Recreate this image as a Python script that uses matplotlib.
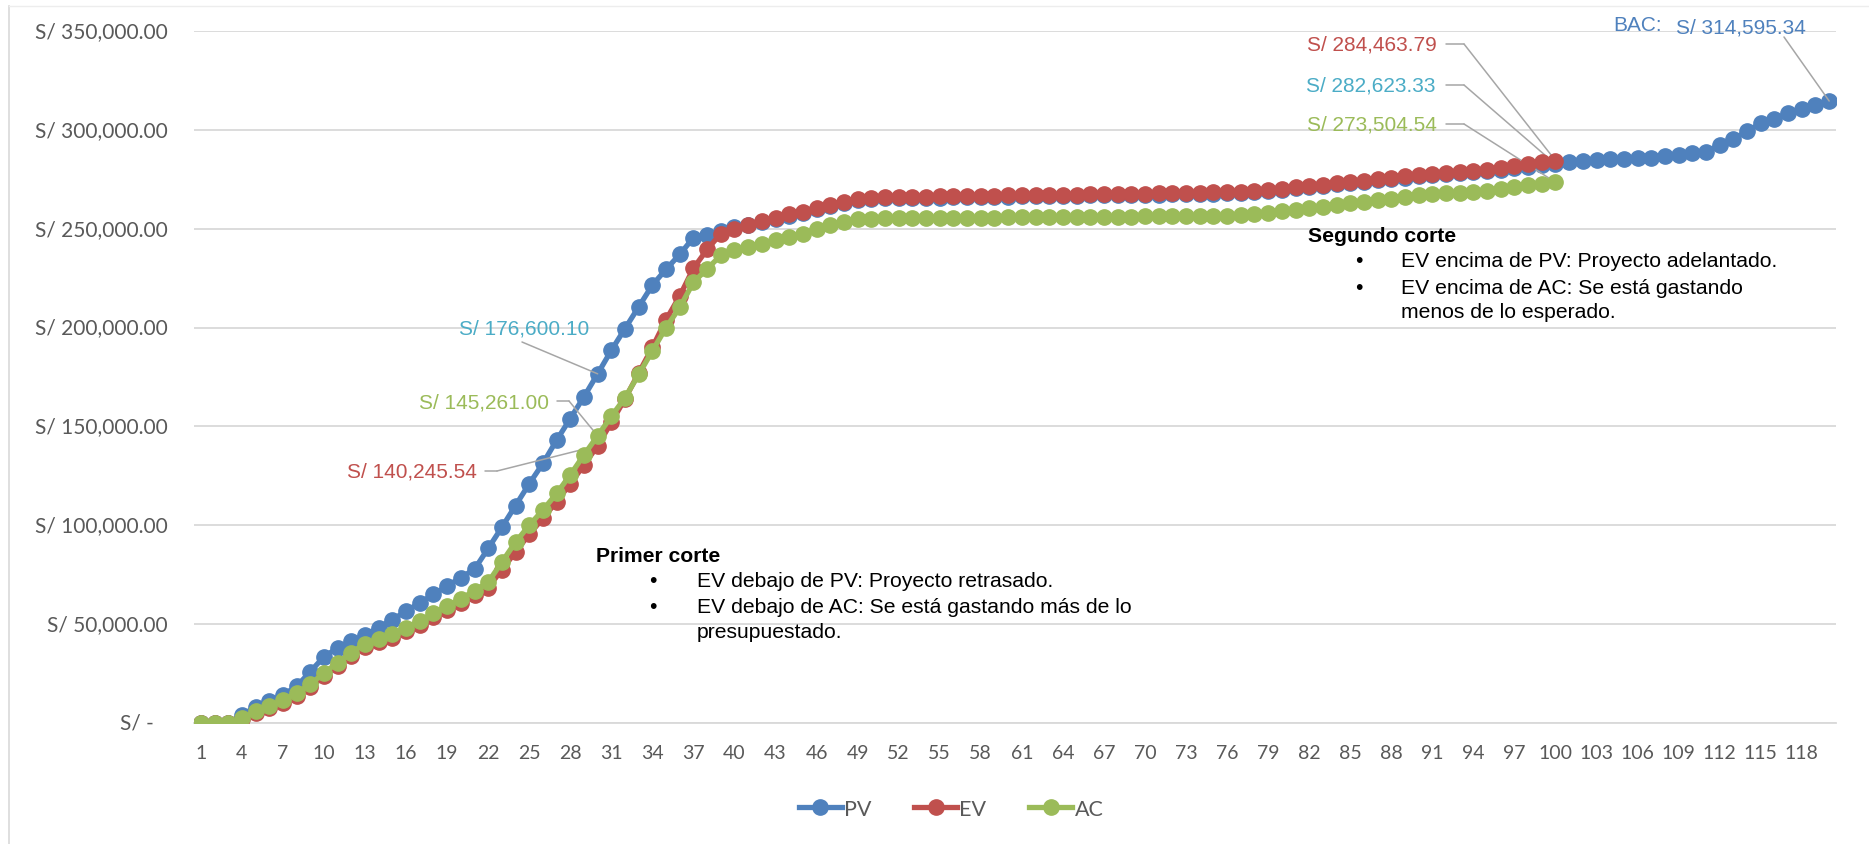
import matplotlib
matplotlib.use("Agg")
import matplotlib.pyplot as plt
from matplotlib.lines import Line2D

periods_pv = list(range(1, 121))
periods_ev = list(range(1, 101))

pv = [0, 0, 0, 4000, 8000, 11000, 14200, 18500, 26000, 33500,
      38000, 41500, 44500, 48300, 52300, 56500, 60800, 65000, 69300, 73500,
      77800, 88300, 99000, 110000, 121000, 131300, 143000, 154000, 165000, 176600.10,
      188500, 199500, 210500, 221500, 229500, 237000, 245500, 247000, 249000, 251000,
      251800, 253300, 254800, 256600, 258000, 259800, 261400, 263000, 264300, 265000,
      265300, 265400, 265500, 265600, 265700, 265800, 265900, 266000, 266100, 266200,
      266300, 266400, 266500, 266600, 266700, 266800, 266900, 267000, 267100, 267200,
      267300, 267400, 267500, 267600, 267800, 268000, 268200, 268600, 269100, 269700,
      270400, 270900, 271700, 272400, 272900, 273600, 274400, 275100, 275900, 276600,
      277200, 277600, 278000, 278500, 279200, 279900, 280700, 281300, 282000, 282623.33,
      283600, 284200, 284800, 285100, 285300, 285600, 286000, 286600, 287400, 288200,
      289000, 292300, 295500, 299200, 303400, 305600, 308400, 310800, 312600, 314595.34]

ev = [0, 0, 0, 2000, 5000, 7800, 10300, 13800, 18000, 23800,
      29000, 34000, 38500, 40800, 43200, 46500, 49800, 53400, 57200, 60600,
      64500, 68500, 77500, 86500, 95500, 103500, 112000, 121000, 130500, 140245.54,
      152000, 164000, 177000, 190000, 204000, 216000, 230000, 239500, 247500, 250000,
      252000, 253800, 255200, 257200, 258600, 260400, 262000, 263700, 265000, 265500,
      265800, 266000, 266100, 266200, 266300, 266400, 266500, 266600, 266700, 266800,
      266900, 267000, 267100, 267200, 267300, 267400, 267500, 267600, 267700, 267800,
      267900, 268000, 268100, 268200, 268400, 268600, 268800, 269200, 269700, 270300,
      271000, 271500, 272300, 273000, 273500, 274200, 275000, 275700, 276500, 277200,
      277800, 278200, 278600, 279100, 279800, 280800, 281800, 282900, 283800, 284463.79]

ac = [0, 0, 0, 2500, 5900, 8800, 11400, 15300, 19500, 25400,
      30500, 35600, 40200, 42400, 44900, 48300, 51700, 55400, 59300, 62700,
      67000, 71200, 81400, 91500, 100000, 107700, 116100, 125500, 135600, 145261.00,
      155100, 164500, 176300, 188200, 200000, 210200, 222900, 229700, 236500, 239000,
      241000, 242400, 244100, 245800, 247500, 250000, 251800, 253400, 254800, 255100,
      255200, 255300, 255300, 255400, 255400, 255500, 255500, 255600, 255600, 255700,
      255700, 255800, 255800, 255900, 255900, 256000, 256000, 256100, 256100, 256200,
      256200, 256300, 256300, 256400, 256500, 256600, 256800, 257300, 258000, 258800,
      259600, 260400, 261200, 262000, 262800, 263600, 264500, 265200, 266000, 266800,
      267400, 267900, 268300, 268700, 269300, 270100, 271000, 271900, 272800, 273504.54]

x_ticks = list(range(1, 121, 3))
y_ticks = [0, 50000, 100000, 150000, 200000, 250000, 300000, 350000]
y_labels = ["S/ -", "S/ 50,000.00", "S/ 100,000.00", "S/ 150,000.00",
            "S/ 200,000.00", "S/ 250,000.00", "S/ 300,000.00", "S/ 350,000.00"]

C_PV = "#4F81BD"
C_EV = "#C0504D"
C_AC = "#9BBB59"
C_TEAL = "#4BACC6"
GRID = "#D9D9D9"
TXT = "#595959"
LEAD = "#A6A6A6"

W, H = 1869, 845
fig = plt.figure(figsize=(W / 100, H / 100), dpi=100)
L, R, T, B = 194, 1836, 32, 724
ax = fig.add_axes([L / W, 1 - B / H, (R - L) / W, (B - T) / H])

lw, ms = 3.8, 11
ax.plot(periods_pv, pv, color=C_PV, lw=lw, marker="o", ms=ms, label="PV", zorder=3)
ax.plot(periods_ev, ev, color=C_EV, lw=lw, marker="o", ms=ms, label="EV", zorder=4)
ax.plot(periods_ev, ac, color=C_AC, lw=lw, marker="o", ms=ms, label="AC", zorder=5)

ax.set_xlim(0.5, 120.5)
ax.set_ylim(0, 350000)
ax.set_xticks(x_ticks)
ax.set_xticklabels([str(v) for v in x_ticks], fontsize=14, color=TXT, family="Lato")
ax.tick_params(axis="x", length=0, pad=15)
ax.set_yticks(y_ticks)
ax.set_yticklabels([])
ax.tick_params(axis="y", length=0)
YOFF = -0.0162
for v, lab in zip(y_ticks, y_labels):
    xo = YOFF - 0.0085 if v == 0 else YOFF
    ax.text(xo, v, lab, transform=ax.get_yaxis_transform(),
            ha="right", va="center", fontsize=15, color=TXT, family="Lato")
ax.grid(axis="y", color=GRID, lw=1.3)
ax.set_axisbelow(True)
for s in ["top", "right", "left"]:
    ax.spines[s].set_visible(False)
ax.spines["bottom"].set_color(GRID)
ax.spines["bottom"].set_linewidth(1.3)

# chart border
fig.add_artist(Line2D([9 / W, 9 / W], [0, 1 - 7 / H], color="#D9D9D9", lw=1.2))
fig.add_artist(Line2D([9 / W, 1], [1 - 7 / H, 1 - 7 / H], color="#EDEDED", lw=1.0))

AF = "Liberation Sans"
LSZ = 15


def fp(x, y):
    return (x, H - y)


def leader(pt, pts_fig):
    for a, b in zip(pts_fig[:-1], pts_fig[1:]):
        ax.annotate("", xy=b, xycoords="figure pixels", xytext=a, textcoords="figure pixels",
                    arrowprops=dict(arrowstyle="-", color=LEAD, lw=1.1, shrinkA=0, shrinkB=0))
    ax.annotate("", xy=pt, xycoords="data", xytext=pts_fig[-1], textcoords="figure pixels",
                arrowprops=dict(arrowstyle="-", color=LEAD, lw=1.1, shrinkA=0, shrinkB=0))


# first cut labels
ax.annotate("S/ 176,600.10", xy=(30, pv[29]), xytext=fp(524, 329), textcoords="figure pixels",
            ha="center", va="center", fontsize=LSZ, color=C_TEAL, family=AF)
leader((30, pv[29]), [fp(522, 343)])
ax.annotate("S/ 145,261.00", xy=(30, ac[29]), xytext=fp(549, 403), textcoords="figure pixels",
            ha="right", va="center", fontsize=LSZ, color=C_AC, family=AF)
leader((30, ac[29]), [fp(557, 402), fp(569, 402)])
ax.annotate("S/ 140,245.54", xy=(30, ev[29]), xytext=fp(477, 472), textcoords="figure pixels",
            ha="right", va="center", fontsize=LSZ, color=C_EV, family=AF)
leader((30, ev[29]), [fp(485, 472), fp(497, 472)])

# second cut labels
ax.annotate("S/ 284,463.79", xy=(100, ev[99]), xytext=fp(1437, 45), textcoords="figure pixels",
            ha="right", va="center", fontsize=LSZ, color=C_EV, family=AF)
leader((100, ev[99]), [fp(1446, 45), fp(1464, 45)])
ax.annotate("S/ 282,623.33", xy=(100, pv[99]), xytext=fp(1436, 86), textcoords="figure pixels",
            ha="right", va="center", fontsize=LSZ, color=C_TEAL, family=AF)
leader((100, pv[99]), [fp(1446, 86), fp(1464, 86)])
ax.annotate("S/ 273,504.54", xy=(100, ac[99]), xytext=fp(1437, 125), textcoords="figure pixels",
            ha="right", va="center", fontsize=LSZ, color=C_AC, family=AF)
leader((100, ac[99]), [fp(1446, 125), fp(1464, 125)])

# BAC
ax.annotate("BAC:", xy=(120, pv[119]), xytext=fp(1613, 26), textcoords="figure pixels",
            ha="left", va="center", fontsize=LSZ, color=C_PV, family=AF)
ax.annotate("S/ 314,595.34", xy=(120, pv[119]), xytext=fp(1676, 28), textcoords="figure pixels",
            ha="left", va="center", fontsize=LSZ, color=C_PV, family=AF)
leader((120, pv[119]), [fp(1784, 38)])

# text boxes
TS = 15.2
fig.text(596 / W, 1 - 557 / H, "Primer corte", ha="left", va="center", fontsize=TS,
         fontweight="bold", color="black", family=AF)
for yy, bullet, line in [(582, True, "EV debajo de PV: Proyecto retrasado."),
                         (608, True, "EV debajo de AC: Se está gastando más de lo"),
                         (633, False, "presupuestado.")]:
    if bullet:
        fig.text(653 / W, 1 - yy / H, "•", ha="center", va="center", fontsize=TS, color="black", family=AF)
    fig.text(697 / W, 1 - yy / H, line, ha="left", va="center", fontsize=TS, color="black", family=AF)

fig.text(1308 / W, 1 - 236 / H, "Segundo corte", ha="left", va="center", fontsize=TS,
         fontweight="bold", color="black", family=AF)
for yy, bullet, line in [(262, True, "EV encima de PV: Proyecto adelantado."),
                         (288, True, "EV encima de AC: Se está gastando"),
                         (313, False, "menos de lo esperado.")]:
    if bullet:
        fig.text(1359 / W, 1 - yy / H, "•", ha="center", va="center", fontsize=TS, color="black", family=AF)
    fig.text(1401 / W, 1 - yy / H, line, ha="left", va="center", fontsize=TS, color="black", family=AF)

leg = fig.legend(loc="center", bbox_to_anchor=(951 / W, 1 - 810 / H), ncol=3, frameon=False,
                 prop={"family": "Lato", "size": 15.5}, handlelength=2.0, columnspacing=2.0,
                 handletextpad=0.1, labelcolor=TXT)

fig.savefig("out.png", dpi=100, facecolor="white")
